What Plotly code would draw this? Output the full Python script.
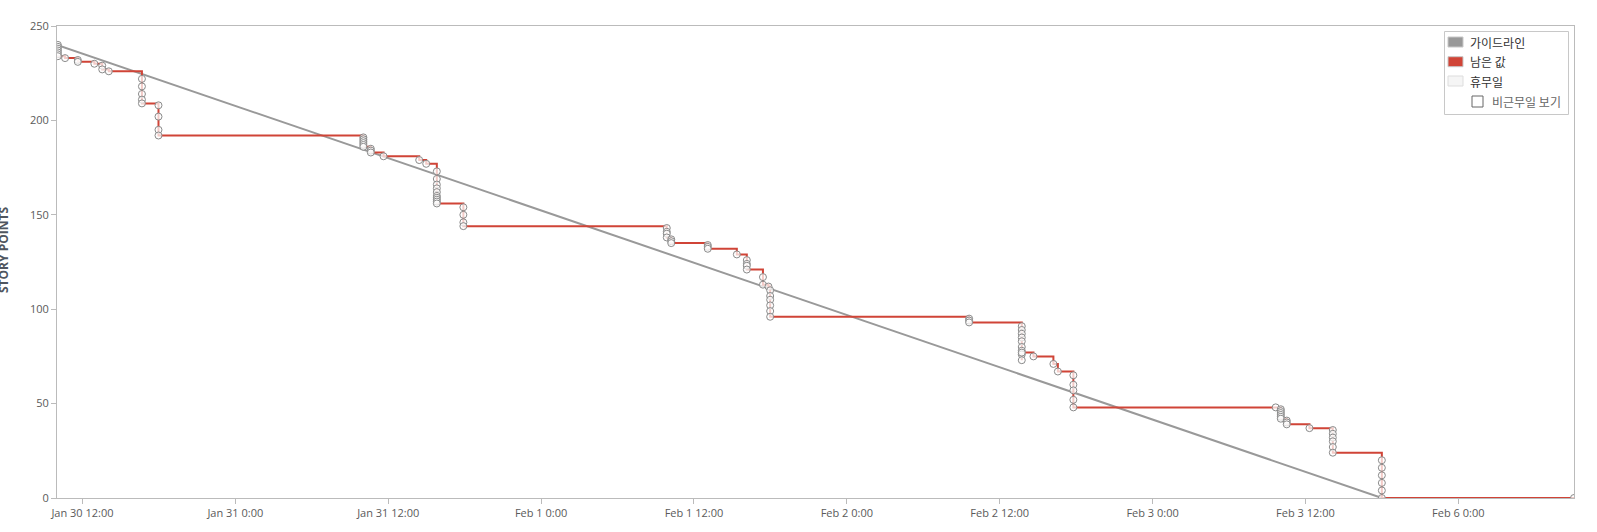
import plotly.graph_objects as go

# ---------------- data ----------------
guide_times = ["2017-01-30 10:00", "2017-02-03 18:00"]
guide_values = [240, 0]

# remaining story points: each timestamp with the values logged at that moment
event_times = [
    "2017-01-30 10:04", "2017-01-30 10:38", "2017-01-30 11:38", "2017-01-30 12:56",
    "2017-01-30 13:33", "2017-01-30 14:04", "2017-01-30 16:40", "2017-01-30 17:58",
    "2017-01-31 10:03", "2017-01-31 10:38", "2017-01-31 11:38", "2017-01-31 14:26",
    "2017-01-31 14:59", "2017-01-31 15:49", "2017-01-31 17:54",
    "2017-02-01 09:52", "2017-02-01 10:13", "2017-02-01 13:05", "2017-02-01 15:22",
    "2017-02-01 16:09", "2017-02-01 17:25", "2017-02-01 17:51", "2017-02-01 17:59",
    "2017-02-02 09:36", "2017-02-02 13:44", "2017-02-02 14:39", "2017-02-02 16:13",
    "2017-02-02 16:34", "2017-02-02 17:47",
    "2017-02-03 09:40", "2017-02-03 10:04", "2017-02-03 10:32", "2017-02-03 12:19",
    "2017-02-03 14:09", "2017-02-03 18:00",
    "2017-02-06 09:05",
]
event_values = [
    [240, 239, 238, 237, 236, 235, 234], [233], [232, 231], [230],
    [229, 227], [226], [222, 218, 214, 211, 209], [208, 202, 195, 192],
    [191, 190, 189, 188, 187, 186], [185, 184, 183], [181], [179],
    [177], [173, 169, 166, 164, 162, 160, 159, 158, 157, 156], [154, 150, 146, 144],
    [143, 141, 140, 138], [137, 136, 135], [134, 133, 132], [129],
    [126, 124, 123, 121], [117, 113], [112], [110, 107, 105, 102, 99, 96],
    [95, 94, 93], [91, 89, 87, 85, 83, 80, 78, 76, 73, 77], [75], [71],
    [67], [65, 60, 57, 52, 48],
    [48], [47, 46, 45, 44, 43, 42], [41, 40, 39], [37],
    [36, 34, 32, 30, 27, 24], [20, 16, 12, 8, 4, 0],
    [0],
]

x_tick_vals = [
    "2017-01-30 12:00", "2017-01-31 00:00", "2017-01-31 12:00", "2017-02-01 00:00",
    "2017-02-01 12:00", "2017-02-02 00:00", "2017-02-02 12:00", "2017-02-03 00:00",
    "2017-02-03 12:00", "2017-02-06 00:00",
]
x_tick_text = [
    "Jan 30 12:00", "Jan 31 0:00", "Jan 31 12:00", "Feb 1 0:00", "Feb 1 12:00",
    "Feb 2 0:00", "Feb 2 12:00", "Feb 3 0:00", "Feb 3 12:00", "Feb 6 0:00",
]
y_tick_vals = [0, 50, 100, 150, 200, 250]
x_range = ["2017-01-30 10:00", "2017-02-06 09:05"]

legend_labels = ["가이드라인", "남은 값", "휴무일"]
legend_colors = ["#999999", "#d04437", "#f5f5f5"]
legend_borders = ["#c8c8c8", "#c8c8c8", "#dddddd"]
checkbox_label = "비근무일 보기"
y_title = "STORY POINTS"

# flatten
rem_t, rem_v = [], []
for t, vals in zip(event_times, event_values):
    for v in vals:
        rem_t.append(t)
        rem_v.append(v)

AXIS = "#bbbbbb"
TXT = "#5a5a5a"
FONT = "Open Sans, Noto Sans, sans-serif"
KFONT = "Noto Sans CJK KR, Noto Sans, sans-serif"

fig = go.Figure()
fig.add_trace(go.Scatter(
    x=guide_times, y=guide_values, mode="lines",
    line=dict(color="#999999", width=2), name=legend_labels[0], showlegend=False,
    hoverinfo="skip"))
fig.add_trace(go.Scatter(
    x=rem_t, y=rem_v, mode="lines+markers", line_shape="hv",
    line=dict(color="#d04437", width=2),
    marker=dict(size=7, color="rgba(255,255,255,0.72)",
                line=dict(color="#8a8a8a", width=1)),
    name=legend_labels[1], showlegend=False))

fig.update_layout(
    width=1597, height=532,
    margin=dict(l=57, r=23, t=26, b=31, pad=0),
    paper_bgcolor="white", plot_bgcolor="white",
    showlegend=False,
    font=dict(family=FONT, size=11, color=TXT),
)
fig.update_xaxes(
    type="date", range=x_range,
    rangebreaks=[dict(bounds=["sat", "mon"])],
    tickvals=x_tick_vals, ticktext=x_tick_text,
    showgrid=False, zeroline=False,
    showline=True, linecolor=AXIS, linewidth=1, mirror=True,
    ticks="outside", ticklen=5, tickcolor=AXIS,
    tickfont=dict(family=FONT, size=11, color=TXT),
)
fig.update_yaxes(
    range=[0, 250], tickvals=y_tick_vals,
    showgrid=False, zeroline=False,
    showline=True, linecolor=AXIS, linewidth=1, mirror=True,
    ticks="outside", ticklen=5, tickcolor=AXIS,
    tickfont=dict(family=FONT, size=11, color=TXT),
)

# y-axis title (partially cut off at the page edge, as in the reference)
fig.add_annotation(
    text="<b>" + y_title + "</b>", textangle=-90,
    xref="paper", yref="paper", x=0, y=0.5, xanchor="center", yanchor="middle",
    xshift=-54, yshift=12, showarrow=False,
    font=dict(family=FONT, size=12, color="#4f5660"))

# custom legend box (pixel offsets from plot top-right corner)
def pshape(x0, x1, y0, y1, fill, line):
    fig.add_shape(type="rect", xref="paper", yref="paper",
                  xsizemode="pixel", ysizemode="pixel", xanchor=1, yanchor=1,
                  x0=x0, x1=x1, y0=y0, y1=y1, fillcolor=fill,
                  line=dict(color=line, width=1), layer="above")

pshape(-129.5, -5.5, -88.5, -5.5, "white", "#c8c8c8")
row_y = [-16, -35.7, -55]
for lab, col, bcol, yy in zip(legend_labels, legend_colors, legend_borders, row_y):
    pshape(-126, -111, yy - 5, yy + 5, col, bcol)
    fig.add_annotation(text=lab, xref="paper", yref="paper", x=1, y=1,
                       xshift=-106, yshift=yy, xanchor="left", yanchor="middle",
                       showarrow=False, font=dict(family=KFONT, size=12, color="#333333"))
pshape(-102, -91, -81, -70, "white", "#666666")
fig.add_annotation(text=checkbox_label, xref="paper", yref="paper", x=1, y=1,
                   xshift=-84, yshift=-75.5, xanchor="left", yanchor="middle",
                   showarrow=False, font=dict(family=KFONT, size=12, color="#666666"))

fig.write_html("out.html", config={"displayModeBar": False},
               post_script="document.body.style.margin='0';")
